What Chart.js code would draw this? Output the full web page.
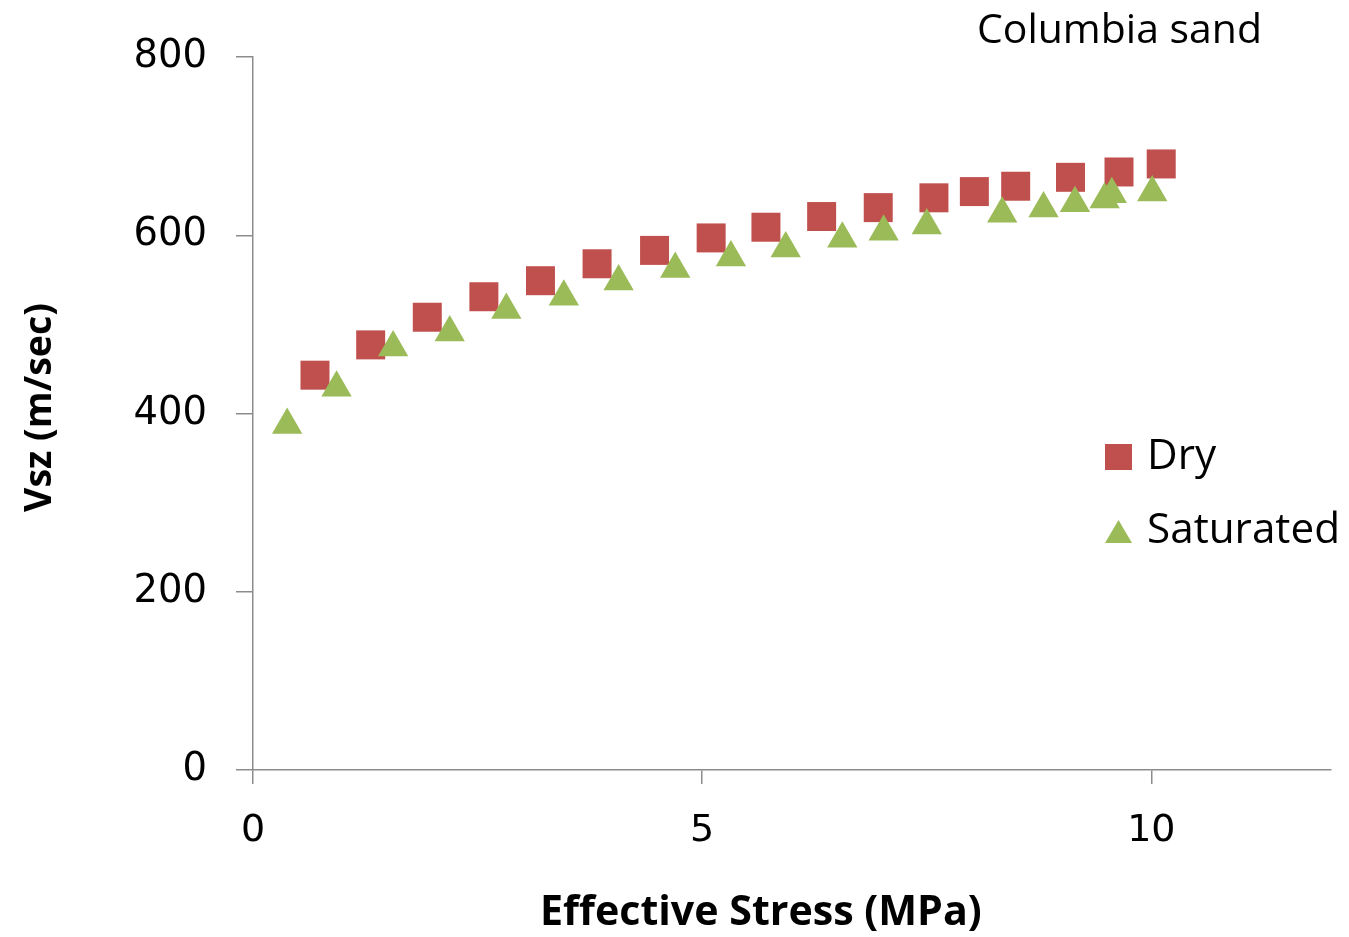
<!DOCTYPE html>
<html>
<head>
<meta charset="utf-8">
<script src="https://cdn.jsdelivr.net/npm/chart.js@4"></script>
<style>
  html, body { margin: 0; padding: 0; background: #fff; }
  canvas { display: block; }
</style>
</head>
<body>
<canvas id="chart" width="1349" height="937"></canvas>
<script>
// values
const dryStress = [0.69, 1.31, 1.94, 2.57, 3.20, 3.83, 4.47, 5.10, 5.71, 6.33, 6.96, 7.58, 8.03, 8.49, 9.10, 9.64, 10.11]
const dryVsz = [443, 477, 508, 531, 549, 568, 583, 597, 609, 621, 631, 642, 649, 655, 665, 671, 680]

const satStress = [0.38, 0.93, 1.56, 2.19, 2.82, 3.46, 4.07, 4.70, 5.32, 5.93, 6.56, 7.02, 7.50, 8.34, 8.80, 9.15, 9.48, 9.56, 10.01]
const satVsz = [387, 429, 474, 491, 516, 531, 548, 562, 575, 585, 596, 604, 611, 624, 630, 636, 640, 646, 648]

const xTicks = [0, 5, 10]
const yTicks = [0, 200, 400, 600, 800]

const titleText = 'Columbia sand'
const xTitle = 'Effective Stress (MPa)'
const yTitle = 'Vsz (m/sec)'
const seriesNames = ['Dry', 'Saturated']

const red = '#C0504D'
const green = '#9BBB59'
const axisGray = '#8c8c8c'
const textFont = '"Open Sans", "Noto Sans", sans-serif'

function pairs(xs, ys) {
  return xs.map((x, i) => ({ x: x, y: ys[i] }))
}

// font size that makes text span the given width
function fitSize(ctx, text, weight, width) {
  ctx.font = `${weight} 100px ${textFont}`
  return 100 * width / ctx.measureText(text).width
}

const textPlugin = {
  id: 'texts',
  afterDraw(chart) {
    const ctx = chart.ctx
    ctx.save()
    ctx.fillStyle = '#000'
    ctx.textAlign = 'left'
    ctx.textBaseline = 'alphabetic'

    // title at top right
    let size = fitSize(ctx, titleText, 400, 285)
    ctx.font = `400 ${size}px ${textFont}`
    ctx.fillText(titleText, 977, 43)

    // x axis title
    size = fitSize(ctx, xTitle, 700, 442)
    ctx.font = `700 ${size}px ${textFont}`
    ctx.fillText(xTitle, 540, 925)

    // y axis title, rotated
    size = fitSize(ctx, yTitle, 700, 209)
    ctx.font = `700 ${size}px ${textFont}`
    ctx.save()
    ctx.translate(37 + size * 0.36, 407.5)
    ctx.rotate(-Math.PI / 2)
    ctx.textAlign = 'center'
    ctx.fillText(yTitle, 0, 0)
    ctx.restore()

    // legend
    size = fitSize(ctx, seriesNames[1], 400, 193)
    ctx.font = `400 ${size}px ${textFont}`
    ctx.fillText(seriesNames[0], 1147, 469)
    ctx.fillText(seriesNames[1], 1147, 543)

    ctx.fillStyle = red
    ctx.fillRect(1105, 444, 27, 26)

    ctx.fillStyle = green
    ctx.beginPath()
    ctx.moveTo(1118.5, 520)
    ctx.lineTo(1132, 543)
    ctx.lineTo(1105, 543)
    ctx.closePath()
    ctx.fill()
    ctx.restore()
  }
}

const ctx = document.getElementById('chart').getContext('2d')

const chart = new Chart(ctx, {
  type: 'scatter',
  data: {
    datasets: [{
      label: seriesNames[0],
      data: pairs(dryStress, dryVsz),
      pointStyle: 'rect',
      pointRadius: 20.5,
      pointBackgroundColor: red,
      pointBorderWidth: 0,
      order: 2
    }, {
      label: seriesNames[1],
      data: pairs(satStress, satVsz),
      pointStyle: 'triangle',
      pointRadius: 17.5,
      pointBackgroundColor: green,
      pointBorderWidth: 0,
      order: 1
    }]
  },
  options: {
    responsive: false,
    animation: false,
    layout: { autoPadding: false, padding: { left: 0, top: 57, right: 18, bottom: 0 } },
    plugins: {
      legend: { display: false },
      tooltip: { enabled: false }
    },
    scales: {
      x: {
        type: 'linear',
        min: 0,
        max: 12,
        afterBuildTicks: s => { s.ticks = xTicks.map(v => ({ value: v })) },
        afterFit: s => { s.height = 167 },
        border: { display: true, color: axisGray, width: 1.5 },
        grid: { drawOnChartArea: false, drawTicks: true, tickLength: 14, tickColor: axisGray, lineWidth: 1.5 },
        ticks: {
          padding: 24,
          color: '#000',
          font: { family: '"DejaVu Sans", Verdana, sans-serif', size: 38 }
        }
      },
      y: {
        type: 'linear',
        min: 0,
        max: 800,
        afterBuildTicks: s => { s.ticks = yTicks.map(v => ({ value: v })) },
        afterFit: s => { s.width = 253 },
        border: { display: true, color: axisGray, width: 1.5 },
        grid: { drawOnChartArea: false, drawTicks: true, tickLength: 17, tickColor: axisGray, lineWidth: 1.5 },
        ticks: {
          padding: 29,
          color: '#000',
          font: { family: '"DejaVu Sans", Verdana, sans-serif', size: 38.5 }
        }
      }
    }
  },
  plugins: [textPlugin]
})
</script>
</body>
</html>
